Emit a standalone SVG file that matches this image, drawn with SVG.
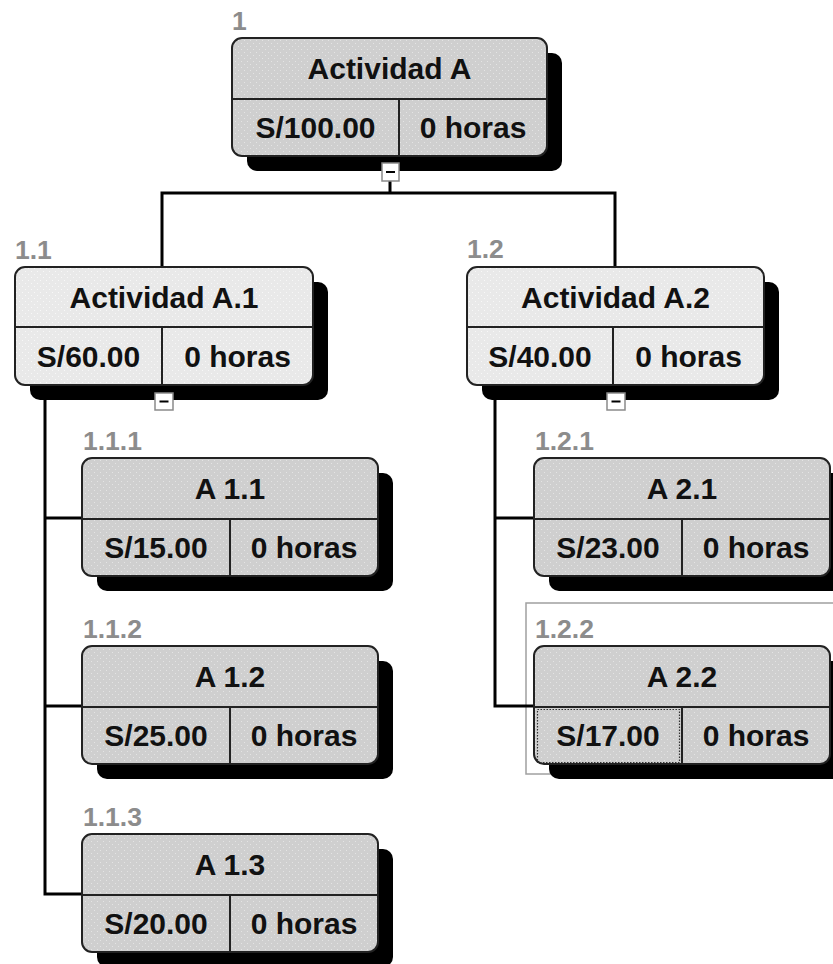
<svg xmlns="http://www.w3.org/2000/svg" width="833" height="964" viewBox="0 0 833 964">
<defs>
<pattern id="dotsDark" width="6" height="6" patternUnits="userSpaceOnUse">
<rect width="6" height="6" fill="#cfcfcf"/>
<rect x="1" y="1" width="1" height="1" fill="#e4e4e4"/>
<rect x="4" y="4" width="1" height="1" fill="#e4e4e4"/>
</pattern>
<pattern id="dotsLight" width="6" height="6" patternUnits="userSpaceOnUse">
<rect width="6" height="6" fill="#e9e9e9"/>
<rect x="1" y="1" width="1" height="1" fill="#f8f8f8"/>
<rect x="4" y="4" width="1" height="1" fill="#f8f8f8"/>
</pattern>
</defs>
<style>
.shadow{fill:#000}
.box{stroke:#222;stroke-width:2}
.dark{fill:url(#dotsDark)}
.light{fill:url(#dotsLight)}
.div{stroke:#222;stroke-width:2;fill:none}
.t{font-family:"Liberation Sans",Arial,sans-serif;font-weight:bold;font-size:30px;fill:#111;text-anchor:middle}
.lbl{font-family:"Liberation Sans",Arial,sans-serif;font-weight:bold;font-size:26.5px;fill:#8c8c8c}
.conn{stroke:#000;stroke-width:3;fill:none}
.tog{fill:#fff;stroke:#8a8a8a;stroke-width:1.5}
.minus{stroke:#000;stroke-width:2}
.sel{fill:none;stroke:#a0a0a0;stroke-width:1.5}
.focus{fill:none;stroke:#333;stroke-width:1.2;stroke-dasharray:1.5 1.5}
</style>
<rect class="sel" x="526" y="603" width="320" height="171"/>
<g id="connectors">
<path class="conn" d="M390 181 V193"/>
<path class="conn" d="M162 267 V193 H615 V267"/>
<path class="conn" d="M45 398 V894 H82"/>
<path class="conn" d="M45 518 H82"/>
<path class="conn" d="M45 706 H82"/>
<path class="conn" d="M495 398 V706 H534"/>
<path class="conn" d="M495 518 H534"/>
</g>
<g id="node-1">
<text class="lbl" x="232" y="30">1</text>
<rect class="shadow" x="247" y="53" width="315" height="118" rx="10"/>
<rect class="box dark" x="232" y="38" width="315" height="118" rx="10"/>
<path class="div" d="M232 99 H547 M399 99 V156"/>
<text class="t" x="389.5" y="79">Actividad A</text>
<text class="t" x="315.5" y="138">S/100.00</text>
<text class="t" x="473" y="138">0 horas</text>
<rect class="tog" x="382" y="163" width="17" height="18"/>
<path class="minus" d="M386 172 H395"/>
</g>
<g id="node-1.1">
<text class="lbl" x="15" y="259">1.1</text>
<rect class="shadow" x="30" y="282" width="298" height="118" rx="10"/>
<rect class="box light" x="15" y="267" width="298" height="118" rx="10"/>
<path class="div" d="M15 327 H313 M162 327 V385"/>
<text class="t" x="164" y="308">Actividad A.1</text>
<text class="t" x="88.5" y="367">S/60.00</text>
<text class="t" x="237.5" y="367">0 horas</text>
<rect class="tog" x="155" y="393" width="18" height="17"/>
<path class="minus" d="M159.5 401.5 H168.5"/>
</g>
<g id="node-1.2">
<text class="lbl" x="467" y="258">1.2</text>
<rect class="shadow" x="482" y="282" width="297" height="118" rx="10"/>
<rect class="box light" x="467" y="267" width="297" height="118" rx="10"/>
<path class="div" d="M467 327 H764 M613 327 V385"/>
<text class="t" x="615.5" y="308">Actividad A.2</text>
<text class="t" x="540" y="367">S/40.00</text>
<text class="t" x="688.5" y="367">0 horas</text>
<rect class="tog" x="607" y="393" width="18" height="17"/>
<path class="minus" d="M611.5 401.5 H620.5"/>
</g>
<g id="node-1.1.1">
<text class="lbl" x="83" y="450">1.1.1</text>
<rect class="shadow" x="97" y="473" width="296" height="118" rx="10"/>
<rect class="box dark" x="82" y="458" width="296" height="118" rx="10"/>
<path class="div" d="M82 519 H378 M230 519 V576"/>
<text class="t" x="230" y="499">A 1.1</text>
<text class="t" x="156" y="558">S/15.00</text>
<text class="t" x="304" y="558">0 horas</text>
</g>
<g id="node-1.1.2">
<text class="lbl" x="83" y="638">1.1.2</text>
<rect class="shadow" x="97" y="661" width="296" height="118" rx="10"/>
<rect class="box dark" x="82" y="646" width="296" height="118" rx="10"/>
<path class="div" d="M82 707 H378 M230 707 V764"/>
<text class="t" x="230" y="687">A 1.2</text>
<text class="t" x="156" y="746">S/25.00</text>
<text class="t" x="304" y="746">0 horas</text>
</g>
<g id="node-1.1.3">
<text class="lbl" x="83" y="826">1.1.3</text>
<rect class="shadow" x="97" y="849" width="296" height="118" rx="10"/>
<rect class="box dark" x="82" y="834" width="296" height="118" rx="10"/>
<path class="div" d="M82 895 H378 M230 895 V952"/>
<text class="t" x="230" y="875">A 1.3</text>
<text class="t" x="156" y="934">S/20.00</text>
<text class="t" x="304" y="934">0 horas</text>
</g>
<g id="node-1.2.1">
<text class="lbl" x="535" y="450">1.2.1</text>
<rect class="shadow" x="549" y="473" width="296" height="118" rx="10"/>
<rect class="box dark" x="534" y="458" width="296" height="118" rx="10"/>
<path class="div" d="M534 519 H830 M682 519 V576"/>
<text class="t" x="682" y="499">A 2.1</text>
<text class="t" x="608" y="558">S/23.00</text>
<text class="t" x="756" y="558">0 horas</text>
</g>
<g id="node-1.2.2">
<text class="lbl" x="535" y="638">1.2.2</text>
<rect class="shadow" x="549" y="661" width="296" height="118" rx="10"/>
<rect class="box dark" x="534" y="646" width="296" height="118" rx="10"/>
<path class="div" d="M534 707 H830 M682 707 V764"/>
<text class="t" x="682" y="687">A 2.2</text>
<text class="t" x="608" y="746">S/17.00</text>
<text class="t" x="756" y="746">0 horas</text>
<rect class="focus" x="537.5" y="709.5" width="142" height="53"/>
</g>
</svg>
